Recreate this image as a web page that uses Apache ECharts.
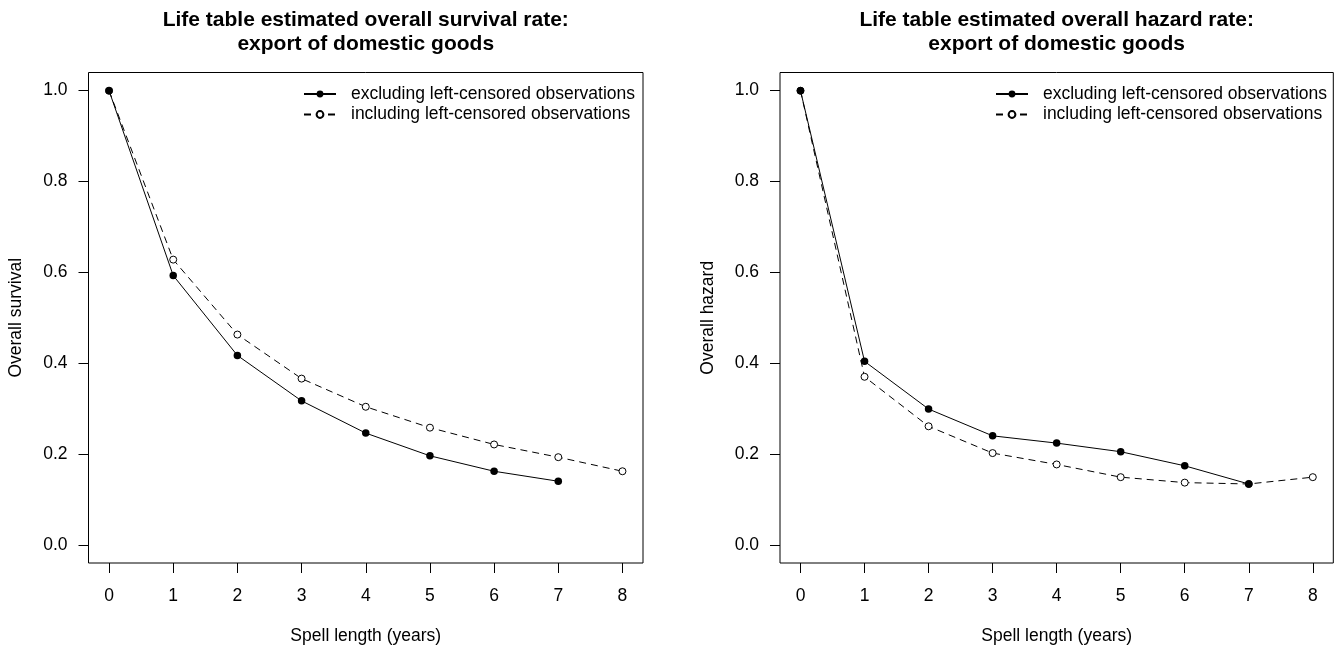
<!DOCTYPE html>
<html><head><meta charset="utf-8">
<script src="https://cdn.jsdelivr.net/npm/echarts@6/dist/echarts.min.js"></script>
<style>html,body{margin:0;padding:0;background:#fff}#c{width:1339px;height:650px}</style>
</head><body><div id="c"></div>
<script>
// ---- data ----
const years = [0, 1, 2, 3, 4, 5, 6, 7, 8];
const xTicks = [0, 1, 2, 3, 4, 5, 6, 7, 8];
const yTicks = [0, 0.2, 0.4, 0.6, 0.8, 1.0];
const survivalExcl = [1.0, 0.593, 0.417, 0.317, 0.246, 0.196, 0.162, 0.140];
const survivalIncl = [1.0, 0.628, 0.463, 0.366, 0.304, 0.258, 0.221, 0.193, 0.162];
const hazardExcl = [1.0, 0.404, 0.299, 0.240, 0.224, 0.205, 0.174, 0.134];
const hazardIncl = [1.0, 0.370, 0.261, 0.202, 0.177, 0.149, 0.137, 0.134, 0.149];
const titles = ['Life table estimated overall survival rate:\nexport of domestic goods',
                'Life table estimated overall hazard rate:\nexport of domestic goods'];
const yNames = ['Overall survival', 'Overall hazard'];
const xName = 'Spell length (years)';
const seriesNames = ['excluding left-censored observations', 'including left-censored observations'];

// ---- layout ----
const FONT = "'Liberation Sans', Arial, sans-serif";
const FS = 17.5;
const panels = [
  { left: 88.5, width: 554.5, excl: survivalExcl, incl: survivalIncl, legendLeft: 303 },
  { left: 780, width: 553.3, excl: hazardExcl, incl: hazardIncl, legendLeft: 995 }
];
const TOP = 72.5, HEIGHT = 493;
const toPairs = arr => arr.map((v, i) => [years[i], v]);

const option = {
  backgroundColor: '#fff',
  animation: false,
  title: [], grid: [], xAxis: [], yAxis: [], series: [], legend: []
};

panels.forEach((p, k) => {
  option.title.push({
    text: titles[k], left: p.left + p.width / 2, top: 8, padding: 0, textAlign: 'center',
    textStyle: { fontFamily: FONT, fontWeight: 'bold', fontSize: 21, lineHeight: 24, color: '#000' }
  });
  option.grid.push({
    left: p.left, top: TOP, width: p.width, height: HEIGHT, containLabel: false,
    show: true, borderColor: '#000', borderWidth: 1, backgroundColor: 'transparent'
  });
  option.xAxis.push({
    type: 'value', gridIndex: k, min: -0.32, max: 8.32,
    name: xName, nameLocation: 'middle', nameGap: 64,
    nameTextStyle: { fontFamily: FONT, fontSize: FS, color: '#000' },
    axisLine: { show: false, onZero: false },
    axisTick: { show: true, customValues: xTicks, length: 10, lineStyle: { color: '#000', width: 1 } },
    axisLabel: { customValues: xTicks, margin: 24, fontFamily: FONT, fontSize: FS, color: '#000' },
    splitLine: { show: false }
  });
  option.yAxis.push({
    type: 'value', gridIndex: k, min: -0.04, max: 1.04,
    name: yNames[k], nameLocation: 'middle', nameGap: 63,
    nameTextStyle: { fontFamily: FONT, fontSize: FS, color: '#000' },
    axisLine: { show: false, onZero: false },
    axisTick: { show: true, customValues: yTicks, length: 10, lineStyle: { color: '#000', width: 1 } },
    axisLabel: { customValues: yTicks, margin: 21, fontFamily: FONT, fontSize: FS, color: '#000',
                 formatter: v => v.toFixed(1) },
    splitLine: { show: false }
  });
  option.series.push({
    name: seriesNames[1], type: 'line', xAxisIndex: k, yAxisIndex: k,
    data: toPairs(p.incl), symbol: 'circle', symbolSize: 7,
    lineStyle: { color: '#000', width: 1, type: [7, 5] },
    itemStyle: { color: '#fff', borderColor: '#000', borderWidth: 1 }
  });
  option.series.push({
    name: seriesNames[0], type: 'line', xAxisIndex: k, yAxisIndex: k,
    data: toPairs(p.excl), symbol: 'circle', symbolSize: 7.5,
    lineStyle: { color: '#000', width: 1, type: 'solid' },
    itemStyle: { color: '#000', borderColor: '#000', borderWidth: 0 }
  });
  option.legend.push({
    data: seriesNames, orient: 'vertical', left: p.legendLeft, top: 85, padding: 0,
    itemWidth: 32, itemHeight: 8.5, itemGap: 2.5, selectedMode: false,
    textStyle: { fontFamily: FONT, fontSize: FS, lineHeight: 17.5, color: '#000', padding: [0, 0, 0, 10] }
  });
});

const chart = echarts.init(document.getElementById('c'), null, { renderer: 'canvas' });
chart.setOption(option);
</script>
</body></html>
